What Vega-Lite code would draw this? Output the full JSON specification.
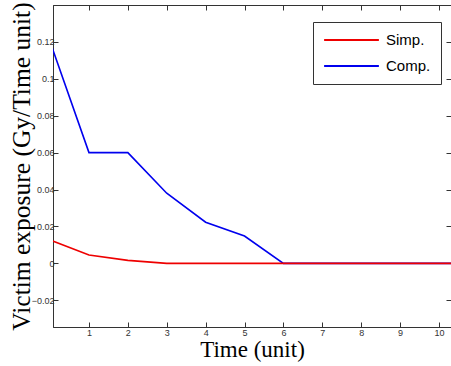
{
  "$schema": "https://vega.github.io/schema/vega-lite/v6.json",
  "autosize": {"type": "none"},
  "width": 398,
  "height": 322,
  "padding": {"left": 53, "top": 5, "right": 0, "bottom": 39},
  "background": "white",
  "config": {
    "view": {"stroke": "#333", "strokeWidth": 1},
    "axis": {
      "domainColor": "#333",
      "tickColor": "#333",
      "tickSize": -5,
      "grid": false,
      "labelFont": "Liberation Sans",
      "labelFontSize": 9,
      "labelColor": "#333",
      "titleFont": "Liberation Serif",
      "titleFontWeight": "normal",
      "titleColor": "black"
    }
  },
  "data": {
    "values": [
      {"t": 0, "v": 0.12, "s": "Comp."},
      {"t": 1, "v": 0.06, "s": "Comp."},
      {"t": 2, "v": 0.06, "s": "Comp."},
      {"t": 3, "v": 0.038, "s": "Comp."},
      {"t": 4, "v": 0.0223, "s": "Comp."},
      {"t": 5, "v": 0.0148, "s": "Comp."},
      {"t": 6, "v": 0, "s": "Comp."},
      {"t": 7, "v": 0, "s": "Comp."},
      {"t": 8, "v": 0, "s": "Comp."},
      {"t": 9, "v": 0, "s": "Comp."},
      {"t": 10, "v": 0, "s": "Comp."},
      {"t": 11, "v": 0, "s": "Comp."},
      {"t": 0, "v": 0.0127, "s": "Simp."},
      {"t": 1, "v": 0.0045, "s": "Simp."},
      {"t": 2, "v": 0.0016, "s": "Simp."},
      {"t": 3, "v": 0, "s": "Simp."},
      {"t": 4, "v": 0, "s": "Simp."},
      {"t": 5, "v": 0, "s": "Simp."},
      {"t": 6, "v": 0, "s": "Simp."},
      {"t": 7, "v": 0, "s": "Simp."},
      {"t": 8, "v": 0, "s": "Simp."},
      {"t": 9, "v": 0, "s": "Simp."},
      {"t": 10, "v": 0, "s": "Simp."},
      {"t": 11, "v": 0, "s": "Simp."}
    ]
  },
  "resolve": {"axis": {"x": "independent", "y": "independent"}},
  "layer": [
    {
      "mark": {"type": "line", "clip": true, "strokeWidth": 1.6},
      "encoding": {
        "x": {
          "field": "t", "type": "quantitative",
          "scale": {"domain": [0.075, 10.31], "nice": false, "zero": false},
          "axis": {"values": [1,2,3,4,5,6,7,8,9,10], "title": "Time (unit)", "titleFontSize": 23, "titlePadding": 1, "labelPadding": 6}
        },
        "y": {
          "field": "v", "type": "quantitative",
          "scale": {"domain": [-0.0345, 0.14], "nice": false, "zero": false},
          "axis": {"values": [-0.02,0,0.02,0.04,0.06,0.08,0.1,0.12], "format": "~g", "title": "Victim exposure (Gy/Time unit)", "titleFontSize": 25.5, "titlePadding": -3, "labelPadding": 4}
        },
        "color": {
          "field": "s", "type": "nominal",
          "scale": {"domain": ["Simp.", "Comp."], "range": ["#ee0000", "#0000ee"]},
          "legend": {
            "orient": "none", "legendX": 260, "legendY": 17,
            "title": null,
            "strokeColor": "#333", "fillColor": "white",
            "padding": 10,
            "symbolType": "stroke", "symbolSize": 3000, "symbolStrokeWidth": 2,
            "clipHeight": 16,
            "labelFont": "Liberation Sans", "labelFontSize": 15, "labelColor": "black",
            "rowPadding": 10, "labelOffset": 6
          }
        }
      }
    },
    {
      "mark": {"type": "line", "opacity": 0},
      "encoding": {
        "x": {"field": "t", "type": "quantitative", "axis": {"orient": "top", "values": [1,2,3,4,5,6,7,8,9,10], "labels": false, "title": null}},
        "y": {"field": "v", "type": "quantitative", "axis": {"orient": "right", "values": [-0.02,0,0.02,0.04,0.06,0.08,0.1,0.12], "labels": false, "title": null}},
        "detail": {"field": "s"}
      }
    }
  ]
}
